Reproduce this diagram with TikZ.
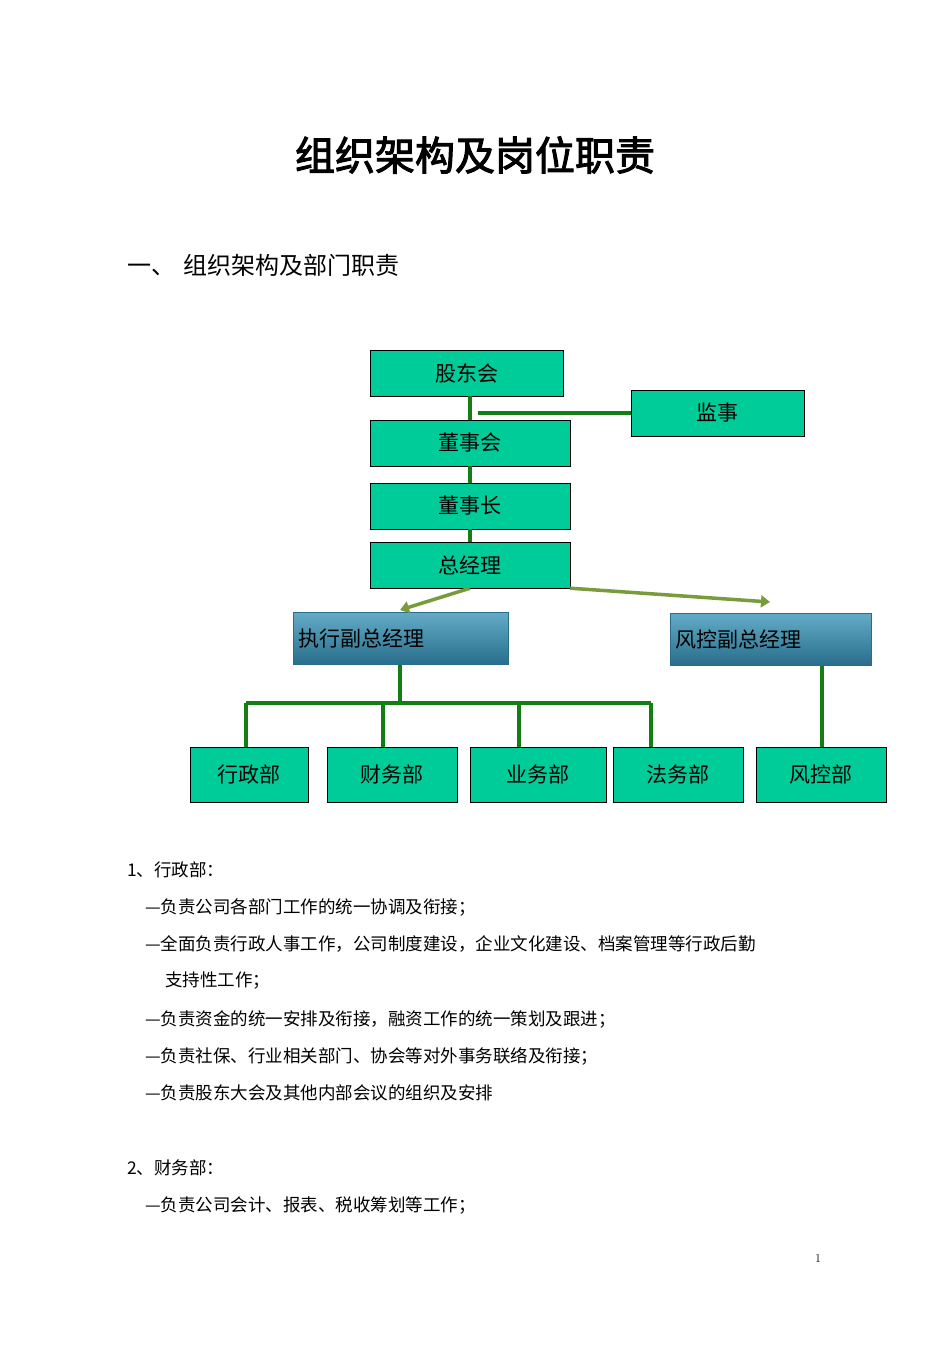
\documentclass[tikz,border=0pt]{standalone}
\usepackage{fontspec}
\newfontfamily\cjk[AutoFakeBold=2.5]{Noto Sans CJK SC}
\usetikzlibrary{arrows.meta}
\definecolor{boxgreen}{RGB}{0,204,153}
\definecolor{linegreen}{RGB}{20,125,20}
\definecolor{olivearrow}{RGB}{120,155,60}
\definecolor{vpblue}{RGB}{60,150,185}
\definecolor{vpdark}{RGB}{40,110,140}
\tikzset{
  unit/.style={draw=black, fill=boxgreen, minimum height=46pt, inner sep=0pt, font=\cjk\fontsize{21}{21}\selectfont},
  vp/.style={draw=vpdark, top color=vpblue!80, bottom color=vpdark, minimum height=52pt, inner sep=0pt, font=\cjk\fontsize{21}{21}\selectfont},
  tie/.style={draw=linegreen, line width=3.5pt},
  flow/.style={draw=olivearrow, line width=3.5pt, -{Triangle[length=9pt,width=12pt]}},
  body/.style={anchor=west, inner sep=0pt, font=\cjk\fontsize{17.5}{17.5}\selectfont}
}
\begin{document}
\begin{tikzpicture}[x=1pt, y=-1pt]
\useasboundingbox[fill=white] (0,0) rectangle (950,1345);

\node [font=\cjk\bfseries\fontsize{40}{40}\selectfont] (title) at (475,155) {组织架构及岗位职责};
\node [body, font=\cjk\fontsize{24}{24}\selectfont] (sec) at (127,265) {一、\hspace{8pt}组织架构及部门职责};

% top chain
\node [unit, minimum width=193pt] (gdh) at (466.5,373) {股东会};
\node [unit, minimum width=173pt] (js) at (717.5,413) {监事};
\node [unit, minimum width=200pt] (dsh) at (470,443) {董事会};
\node [unit, minimum width=200pt] (dsz) at (470,506) {董事长};
\node [unit, minimum width=200pt] (zjl) at (470,565) {总经理};

% deputies
\node [vp, minimum width=215pt, text width=205pt, align=left] (zx) at (400.5,638.5) {执行副总经理};
\node [vp, minimum width=201pt, text width=191pt, align=left] (fk) at (770.5,639.5) {风控副总经理};

% departments
\foreach \n/\l/\x/\w in {xz/行政部/249/118, cw/财务部/392/130, yw/业务部/538/136, fw/法务部/678/130, fkb/风控部/821/130}
  \node [unit, minimum width=\w pt, minimum height=55pt] (\n) at (\x,774.5) {\l};

\coordinate (mid) at (470,413);
\draw [tie] (gdh.south -| mid) -- (dsh.north -| mid);
\draw [tie] (dsh.south -| mid) -- (dsz.north -| mid);
\draw [tie] (dsz.south -| mid) -- (zjl.north -| mid);
\draw [tie] ([xshift=8pt]mid) -- (js.west);

\draw [flow] (zjl.south) -- (400,610);
\draw [flow] (zjl.south east) -- (770,602);

\coordinate (bus) at (400,703);
\draw [tie] (zx.south -| bus) -- (bus);
\draw [tie] (246,703) -- (651,703);
\foreach \n/\x in {xz/246, cw/383, yw/519, fw/651}
  \draw [tie] (\x,703) -- (\n.north -| \x,0);
\draw [tie] (fk.south -| 822,0) -- (fkb.north -| 822,0);

% duties
\node [body] (t1) at (127,870) {1、行政部：};
\node [body] (t2) at (145,907) {—负责公司各部门工作的统一协调及衔接；};
\node [body] (t3) at (145,944) {—全面负责行政人事工作，公司制度建设，企业文化建设、档案管理等行政后勤};
\node [body] (t4) at (165,981) {支持性工作；};
\node [body] (t5) at (145,1019) {—负责资金的统一安排及衔接，融资工作的统一策划及跟进；};
\node [body] (t6) at (145,1056) {—负责社保、行业相关部门、协会等对外事务联络及衔接；};
\node [body] (t7) at (145,1093) {—负责股东大会及其他内部会议的组织及安排};
\node [body] (t8) at (127,1168) {2、财务部：};
\node [body] (t9) at (145,1205) {—负责公司会计、报表、税收筹划等工作；};
\node [font=\fontsize{12}{12}\selectfont] (pg) at (818,1258) {1};
\end{tikzpicture}
\end{document}
